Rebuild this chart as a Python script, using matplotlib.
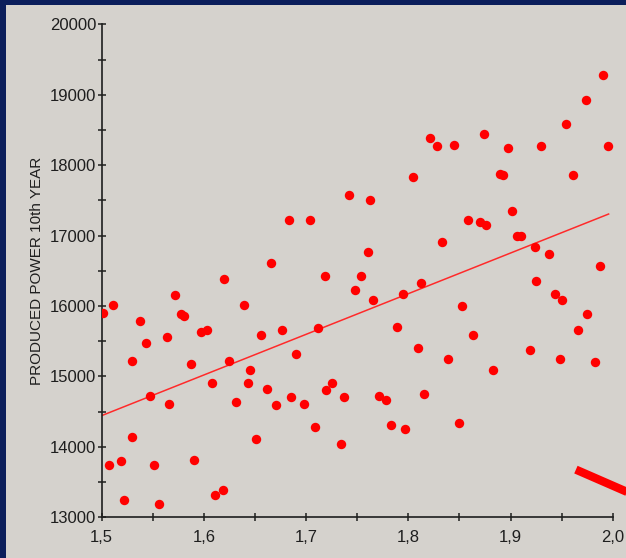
import matplotlib
matplotlib.use("Agg")
import matplotlib.pyplot as plt
from matplotlib.patches import Rectangle
from matplotlib.ticker import MultipleLocator, FuncFormatter

# points: diameter (x) vs produced power (y)
diam = [1.5016, 1.5114, 1.5075, 1.5186, 1.5222, 1.5297, 1.5297, 1.5376, 1.5435, 1.5471,
        1.5513, 1.5562, 1.5641, 1.5657, 1.5716, 1.5778, 1.5810, 1.5876, 1.5902, 1.5967,
        1.6033, 1.6075, 1.6105, 1.6186, 1.6199, 1.6248, 1.6314, 1.6389, 1.6435, 1.6451,
        1.6513, 1.6559, 1.6621, 1.6654, 1.6703, 1.6761, 1.6836, 1.6852, 1.6898, 1.6980,
        1.7043, 1.7089, 1.7121, 1.7184, 1.7197, 1.7249, 1.7341, 1.7370, 1.7420, 1.7475,
        1.7541, 1.7607, 1.7623, 1.7652, 1.7718, 1.7777, 1.7826, 1.7889, 1.7951, 1.7967,
        1.8043, 1.8092, 1.8121, 1.8154, 1.8216, 1.8279, 1.8325, 1.8387, 1.8445, 1.8494,
        1.8526, 1.8588, 1.8633, 1.8698, 1.8740, 1.8756, 1.8831, 1.8893, 1.8925, 1.8974,
        1.9019, 1.9062, 1.9107, 1.9188, 1.9240, 1.9299, 1.9253, 1.9377, 1.9438, 1.9487,
        1.9503, 1.9545, 1.9610, 1.9656, 1.9734, 1.9747, 1.9825, 1.9873, 1.9903, 1.9951]
power = [15902, 16016, 13748, 13795, 13251, 14136, 15225, 15794, 15476, 14728,
         13748, 13189, 15566, 14615, 16158, 15884, 15865, 15183, 13819, 15637,
         15661, 14908, 13322, 13393, 16381, 15216, 14634, 16016, 14908, 15088,
         14117, 15590, 14823, 16608, 14591, 15656, 17223, 14705, 15320, 14615,
         17223, 14278, 15685, 16428, 14813, 14913, 14046, 14705, 17583, 16224,
         16428, 16769, 17512, 16087, 14728, 14662, 14316, 15704, 16177, 14250,
         17834, 15410, 16333, 14747, 18379, 18265, 16906, 15249, 18284, 14340,
         15997, 17219, 15590, 17200, 18445, 17152, 15088, 17872, 17858, 18241,
         17356, 16991, 16991, 15382, 16835, 18265, 16362, 16745, 16177, 15249,
         16087, 18582, 17858, 15656, 18923, 15884, 15206, 16565, 19283, 18265]

# trend line ends
fit_x = [1.5, 1.996]
fit_y = [14444, 17306]

# the thick red pointer in the lower right corner
pointer_x = [1.964, 2.06]
pointer_y = [13677, 13070]

navy = '#0b1e5b'
panel = '#d5d2cd'
ink = '#1e1e1e'

plt.rcParams['font.family'] = ['Liberation Sans', 'DejaVu Sans']

fig = plt.figure(figsize=(6.26, 5.58), dpi=100, facecolor=navy)
fig.patches.append(Rectangle((6 / 626, 0), 1, 553 / 558, transform=fig.transFigure,
                             facecolor=panel, edgecolor='none', zorder=-10))

ax = fig.add_axes([101.7 / 626, 40.7 / 558, 511 / 626, 493 / 558])
ax.set_facecolor('none')

ax.scatter(diam, power, s=46, color='#ff0000', marker='o', linewidths=0, zorder=3)
ax.plot(fit_x, fit_y, color='#ff2a2a', lw=1.1, zorder=2)
ax.plot(pointer_x, pointer_y, color='#ff0000', lw=6, solid_capstyle='butt',
        clip_on=False, zorder=4)

ax.set_xlim(1.5, 2.0)
ax.set_ylim(13000, 20000)

for side in ['top', 'right']:
    ax.spines[side].set_visible(False)
for side in ['left', 'bottom']:
    ax.spines[side].set_color(ink)
    ax.spines[side].set_linewidth(1.2)

ax.xaxis.set_major_locator(MultipleLocator(0.1))
ax.xaxis.set_minor_locator(MultipleLocator(0.05))
ax.yaxis.set_major_locator(MultipleLocator(1000))
ax.yaxis.set_minor_locator(MultipleLocator(500))
ax.xaxis.set_major_formatter(FuncFormatter(lambda v, p: f"{v:.1f}".replace('.', ',')))
ax.yaxis.set_major_formatter(FuncFormatter(lambda v, p: f"{int(round(v))}"))

ax.tick_params(which='both', direction='inout', length=6, width=1.1, color=ink,
               labelcolor=ink, labelsize=12)
ax.tick_params(axis='y', pad=1)
ax.tick_params(axis='x', pad=6)

fig.text(37 / 626, 1 - 270.8 / 558, 'PRODUCED POWER 10th YEAR', rotation=90,
         ha='center', va='center', fontsize=11, color=ink)

fig.savefig('out.png', dpi=100, facecolor=navy)
